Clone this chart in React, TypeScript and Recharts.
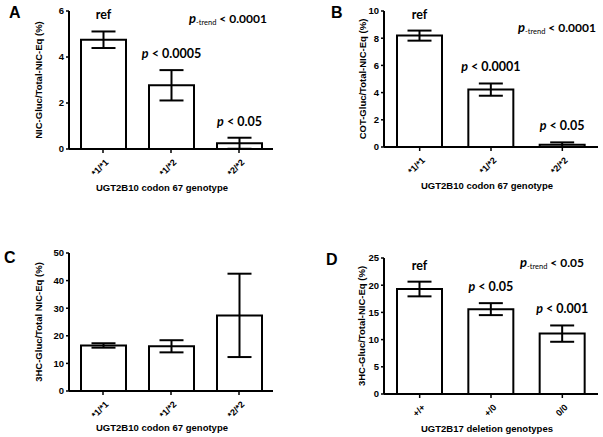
import React from "react";
import { Bar, BarChart, ErrorBar, LabelList, XAxis, YAxis } from "recharts";

const FONT = "'Liberation Sans', Arial, Helvetica, sans-serif";
const NOTE_FONT = "Lato, 'Liberation Sans', sans-serif";

// genotype groups
const codonGenotypes = ["*1/*1", "*1/*2", "*2/*2"];
const deletionGenotypes = ["+/+", "+/0", "0/0"];

// A: NIC-Gluc
const nicMean = [4.75, 2.77, 0.25];
const nicSem = [0.36, 0.66, 0.24];
const nicNotes = ["ref", "p < 0.0005", "p < 0.05"];
const nicTicks = [0, 2, 4, 6];

// B: COT-Gluc
const cotMean = [8.19, 4.22, 0.17];
const cotSem = [0.37, 0.45, 0.17];
const cotNotes = ["ref", "p < 0.0001", "p < 0.05"];
const cotTicks = [0, 2, 4, 6, 8, 10];

// C: 3HC-Gluc by codon 67
const hcCodonMean = [16.5, 16.2, 27.4];
const hcCodonSem = [0.8, 2.2, 15.1];
const hcCodonTicks = [0, 10, 20, 30, 40, 50];

// D: 3HC-Gluc by UGT2B17 deletion
const hcDelMean = [19.3, 15.6, 11.1];
const hcDelSem = [1.35, 1.1, 1.5];
const hcDelNotes = ["ref", "p < 0.05", "p < 0.001"];
const hcDelTicks = [0, 5, 10, 15, 20, 25];

type Row = { genotype: string; mean: number; sem: number; note: string };

const makeRows = (cats: string[], mean: number[], sem: number[], notes?: string[]): Row[] =>
  cats.map((g, i) => ({ genotype: g, mean: mean[i], sem: sem[i], note: notes ? notes[i] : "" }));

const RotatedTick = (props: any) => {
  const { x, y, payload } = props;
  const tx = x + 6;
  const ty = y + 8;
  return (
    <text
      x={tx}
      y={ty}
      transform={`rotate(-45 ${tx} ${ty})`}
      textAnchor="end"
      fontSize={9}
      fontWeight={700}
      fontFamily={FONT}
      fill="#000"
    >
      {payload.value}
    </text>
  );
};

const noteText = (note: string) => {
  if (note.startsWith("p ")) {
    return (
      <>
        <tspan fontStyle="italic">p</tspan>
        <tspan>{note.slice(1)}</tspan>
      </>
    );
  }
  return note;
};

const noteContent = (rows: Row[]) => (props: any) => {
  const vb = props.viewBox ?? props;
  const row = rows[props.index];
  if (!row || !row.note) return null;
  const h = Math.abs(vb.height);
  const perUnit = row.mean ? h / row.mean : 0;
  const errTop = vb.y - row.sem * perUnit;
  const cx = vb.x + vb.width / 2;
  return (
    <text x={cx} y={errTop - 12} textAnchor="middle" fontSize={12.5} fontWeight={700} fontFamily={NOTE_FONT} fill="#000">
      {noteText(row.note)}
    </text>
  );
};

type PanelProps = {
  letter: string;
  letterX: number;
  letterY: number;
  left: number;
  top: number;
  width: number;
  height: number;
  plotTop: number;
  plotRight: number;
  yWidth: number;
  xHeight: number;
  rows: Row[];
  ticks: number[];
  yLabel: string;
  yLabelX: number;
  xLabel: string;
  xLabelDx: number;
  xLabelY: number;
  trend?: string;
  trendX?: number;
  trendY?: number;
};

function Panel(p: PanelProps) {
  const hasNotes = p.rows.some((r) => r.note);
  return (
    <div style={{ position: "absolute", left: p.left, top: p.top, width: p.width, height: p.height }}>
      <BarChart
        width={p.width}
        height={p.height}
        data={p.rows}
        margin={{ top: p.plotTop, right: p.plotRight, left: 0, bottom: 0 }}
        barSize={45}
      >
        <XAxis
          dataKey="genotype"
          height={p.xHeight}
          interval={0}
          tickSize={4}
          tickLine={{ stroke: "#000", strokeWidth: 1.5 }}
          axisLine={{ stroke: "#000", strokeWidth: 2 }}
          tick={<RotatedTick />}
          label={{
            content: (lp: any) => {
              const vb = lp.viewBox;
              return (
                <text
                  x={vb.x + vb.width / 2 + p.xLabelDx}
                  y={p.xLabelY}
                  textAnchor="middle"
                  dominantBaseline="central"
                  fontSize={9.5}
                  fontWeight={700}
                  fontFamily={FONT}
                  fill="#000"
                >
                  {p.xLabel}
                </text>
              );
            },
          }}
        />
        <YAxis
          width={p.yWidth}
          domain={[p.ticks[0], p.ticks[p.ticks.length - 1]]}
          ticks={p.ticks}
          interval={0}
          allowDataOverflow
          tickSize={3}
          tickLine={{ stroke: "#000", strokeWidth: 1.5 }}
          axisLine={{ stroke: "#000", strokeWidth: 2 }}
          tick={{ fontSize: 9.5, fontWeight: 700, fill: "#000", fontFamily: FONT }}
          label={{
            content: (lp: any) => {
              const vb = lp.viewBox;
              const cy = vb.y + vb.height / 2;
              return (
                <text
                  x={p.yLabelX}
                  y={cy}
                  transform={`rotate(-90 ${p.yLabelX} ${cy})`}
                  textAnchor="middle"
                  dominantBaseline="central"
                  fontSize={9.5}
                  fontWeight={700}
                  fontFamily={FONT}
                  fill="#000"
                >
                  {p.yLabel}
                </text>
              );
            },
          }}
        />
        <Bar dataKey="mean" fill="#fff" stroke="#000" strokeWidth={2} isAnimationActive={false}>
          <ErrorBar dataKey="sem" direction="y" width={12} stroke="#000" strokeWidth={2} />
          {hasNotes && <LabelList dataKey="note" content={noteContent(p.rows)} />}
        </Bar>
      </BarChart>
      <svg
        width={p.width}
        height={p.height}
        style={{ position: "absolute", left: 0, top: 0, pointerEvents: "none" }}
      >
        <text x={p.letterX} y={p.letterY} fontSize={16} fontWeight={700} fontFamily={FONT} fill="#000">
          {p.letter}
        </text>
        {p.trend && (
          <text x={p.trendX} y={p.trendY} fontFamily={NOTE_FONT} fontWeight={700} fill="#000" fontSize={12}>
            <tspan fontStyle="italic" fontSize={13}>p</tspan>
            <tspan fontSize={7.5} fontWeight={400} dy={2}>-trend</tspan>
            <tspan dy={-2}>{` < ${p.trend}`}</tspan>
          </text>
        )}
      </svg>
    </div>
  );
}

export default function App() {
  return (
    <div style={{ position: "absolute", left: 0, top: 0, width: 603, height: 437, background: "#fff" }}>
      <Panel
        letter="A"
        letterX={9}
        letterY={17.5}
        left={0}
        top={0}
        width={300}
        height={200}
        plotTop={11}
        plotRight={27}
        yWidth={69}
        xHeight={51}
        rows={makeRows(codonGenotypes, nicMean, nicSem, nicNotes)}
        ticks={nicTicks}
        yLabel="NIC-Gluc/Total-NIC-Eq (%)"
        yLabelX={38}
        xLabel="UGT2B10 codon 67 genotype"
        xLabelDx={-9}
        xLabelY={187}
        trend="0.0001"
        trendX={189}
        trendY={23}
      />
      <Panel
        letter="B"
        letterX={31}
        letterY={17.5}
        left={300}
        top={0}
        width={303}
        height={200}
        plotTop={11}
        plotRight={5}
        yWidth={84}
        xHeight={53}
        rows={makeRows(codonGenotypes, cotMean, cotSem, cotNotes)}
        ticks={cotTicks}
        yLabel="COT-Gluc/Total-NIC-Eq (%)"
        yLabelX={62}
        xLabel="UGT2B10 codon 67 genotype"
        xLabelDx={-4}
        xLabelY={185}
        trend="0.0001"
        trendX={218}
        trendY={32}
      />
      <Panel
        letter="C"
        letterX={4}
        letterY={53}
        left={0}
        top={210}
        width={300}
        height={227}
        plotTop={43}
        plotRight={27}
        yWidth={69}
        xHeight={46}
        rows={makeRows(codonGenotypes, hcCodonMean, hcCodonSem)}
        ticks={hcCodonTicks}
        yLabel="3HC-Gluc/Total NIC-Eq (%)"
        yLabelX={38}
        xLabel="UGT2B10 codon 67 genotype"
        xLabelDx={-9}
        xLabelY={217}
      />
      <Panel
        letter="D"
        letterX={26}
        letterY={55}
        left={300}
        top={210}
        width={303}
        height={227}
        plotTop={48}
        plotRight={5}
        yWidth={84}
        xHeight={43}
        rows={makeRows(deletionGenotypes, hcDelMean, hcDelSem, hcDelNotes)}
        ticks={hcDelTicks}
        yLabel="3HC-Gluc/Total-NIC-Eq (%)"
        yLabelX={61}
        xLabel="UGT2B17 deletion genotypes"
        xLabelDx={-4}
        xLabelY={218}
        trend="0.05"
        trendX={220}
        trendY={57}
      />
    </div>
  );
}
